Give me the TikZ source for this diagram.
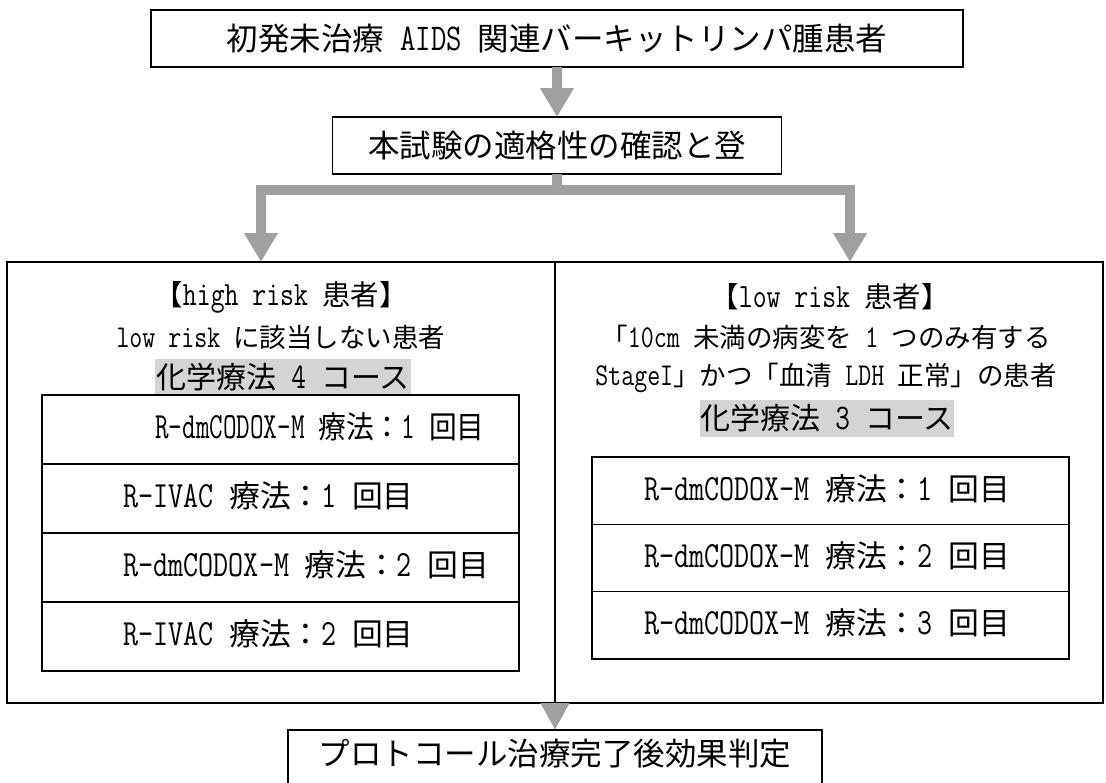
\documentclass[tikz,border=0pt]{standalone}
\usepackage{fontspec}
\setmainfont{Noto Sans CJK JP}
\usetikzlibrary{arrows.meta}
\definecolor{agray}{HTML}{A0A0A0}
\definecolor{hlgray}{HTML}{D4D4D4}
\newcommand\la[1]{\scalebox{0.95}[1.2]{\ttfamily #1}}
\newcommand\hs{\hspace{0.5em}}
\begin{document}
\begin{tikzpicture}[x=0.5pt,y=-0.5pt,
  box/.style={draw, line width=0.75pt, inner sep=0pt, outer sep=0pt},
  tbig/.style={font=\fontsize{15.75pt}{18pt}\selectfont},
  trow/.style={font=\fontsize{15.4pt}{18pt}\selectfont, inner sep=0pt},
  thead/.style={font=\fontsize{14.2pt}{17pt}\selectfont, inner sep=0pt},
  tsub/.style={font=\fontsize{13.25pt}{16pt}\selectfont, inner sep=0pt},
  hlbox/.style={fill=hlgray, inner sep=0pt, minimum height=18.5pt, font=\fontsize{15pt}{18pt}\selectfont},
  shaft/.style={draw=agray, line width=5pt},
  arr/.style={shaft, line join=miter, -{Triangle[width=16pt,length=14.5pt]}},
  arrb/.style={shaft, -{Triangle[width=13.5pt,length=13.5pt]}},
  lrow/.style={box, minimum width=238.5pt, minimum height=34.5pt},
  rrow/.style={box, minimum width=238.5pt, minimum height=33.7pt},
]
\useasboundingbox (0,0) rectangle (1106,782);
% top boxes
\node[box, minimum width=406pt, minimum height=28.5pt, tbig] (top) at (557,38.5) {初発未治療\hs\la{AIDS}\hs 関連バーキットリンパ腫患者};
\node[box, minimum width=224.5pt, minimum height=28.5pt, tbig] (reg) at (557,145.5) {本試験の適格性の確認と登};
% outer box and divider
\node[box, line width=0.7pt, minimum width=548pt, minimum height=220.5pt] (outer) at (555,482.5) {};
\draw[line width=0.7pt] (outer.north) -- (outer.south);
% left panel texts
\node[thead] (lhead) at (281,297) {【\la{high risk}\hs 患者】};
\node[tsub] (lsub) at (281,337) {\la{low risk}\hs に該当しない患者};
\node[hlbox, minimum width=128pt] (lhl) at (283,377) {化学療法\hs\la{4}\hs コース};
% right panel texts
\node[thead] (rhead) at (830,297) {【\la{low risk}\hs 患者】};
\node[tsub] (rsub1) at (826,337) {「\la{10cm}\hs 未満の病変を\hs\la{1}\hs つのみ有する};
\node[tsub] (rsub2) at (826,378) {\la{StageI}」かつ「血清\hs\la{LDH}\hs 正常」の患者};
\node[hlbox, minimum width=126.5pt] (rhl) at (827,418) {化学療法\hs\la{3}\hs コース};
% left rows
\node[lrow] (L1) at (280.5,429.5) {};
\node[lrow] (L2) at (280.5,498.5) {};
\node[lrow] (L3) at (280.5,567.5) {};
\node[lrow] (L4) at (280.5,636.5) {};
\node[trow, anchor=west] (L1t) at (155,426.5) {\scalebox{0.9}[1]{\la{R-dmCODOX-M}\hs 療法：\la{1}\hs 回目}};
\node[trow, anchor=west] (L2t) at (123,495.5) {\la{R-IVAC}\hs 療法：\la{1}\hs 回目};
\node[trow, anchor=west] (L3t) at (123,564.5) {\la{R-dmCODOX-M}\hs 療法：\la{2}\hs 回目};
\node[trow, anchor=west] (L4t) at (123,633.5) {\la{R-IVAC}\hs 療法：\la{2}\hs 回目};
% right rows
\node[rrow] (R1) at (830.5,490.7) {};
\node[rrow] (R2) at (830.5,558) {};
\node[rrow] (R3) at (830.5,625.3) {};
\node[trow] (R1t) at (827,488.7) {\la{R-dmCODOX-M}\hs 療法：\la{1}\hs 回目};
\node[trow] (R2t) at (827,556) {\la{R-dmCODOX-M}\hs 療法：\la{2}\hs 回目};
\node[trow] (R3t) at (827,623.3) {\la{R-dmCODOX-M}\hs 療法：\la{3}\hs 回目};
% bottom box
\node[box, minimum width=267pt, minimum height=30pt] (bot) at (555,760) {};
\node[tbig, inner sep=0pt] (bott) at (555,754) {プロトコール治療完了後効果判定};
% arrows
\coordinate (jn) at (557,190);
\coordinate (lt) at (261,262);
\coordinate (rt) at (850,262);
\draw[arr] (top.south) -- (reg.north);
\draw[shaft] (reg.south) -- (jn);
\draw[arr] (jn) -| (lt);
\draw[arr] (jn) -| (rt);
\draw[arrb] (outer.south) -- (bot.north);
\end{tikzpicture}
\end{document}
